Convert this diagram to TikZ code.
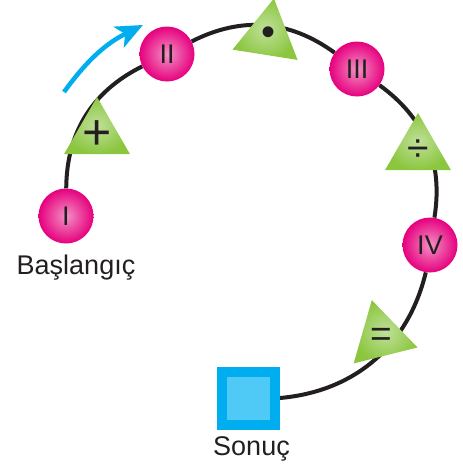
\documentclass[tikz,border=0pt]{standalone}
\usepackage{fontspec}
\setmainfont{Liberation Sans}
\usetikzlibrary{positioning, shapes.geometric, arrows.meta, backgrounds}
\definecolor{ink}{HTML}{231F20}
\definecolor{rosedark}{HTML}{E6007E}
\definecolor{roselight}{HTML}{F391C4}
\definecolor{leafdark}{HTML}{8CC63F}
\definecolor{leaflight}{HTML}{BFE09A}
\definecolor{skydark}{HTML}{00AEEF}
\definecolor{skylight}{HTML}{4FC9F6}
\tikzset{
  x=1pt, y=1pt,
  roman/.style={circle, minimum size=55pt, inner sep=0pt, shade, inner color=roselight,
    outer color=rosedark, text=ink, font=\fontsize{27}{27}\selectfont},
  op/.style={regular polygon, regular polygon sides=3, minimum size=76pt, inner sep=0pt,
    shade, inner color=leaflight, outer color=leafdark},
  sym/.style={inner sep=0pt, text=ink, font=\fontsize{#1}{#1}\selectfont},
  lbl/.style={inner sep=0pt, text=ink, font=\fontsize{27}{27}\selectfont},
  track/.style={draw=ink, line width=4pt},
}

\begin{document}
\begin{tikzpicture}
        \useasboundingbox (0,0) rectangle (463,-474);

        % steps
        \node[roman] (I) at (66,-216) {I};
        \node[roman] (II) at (167,-54) {II};
        \node[roman] (III) at (357,-69) {III};
        \node[roman] (IV) at (430,-245) {IV};
        \node[draw=skydark, line width=10pt, fill=skylight, minimum size=53pt, inner sep=0pt] (S) at (248.5,-398) {};

        % operations
        \node[op, label={[sym=50]center:+}] (plus) at (97,-135) {};
        \node[op, shape border rotate=-9, label={[sym=40]center:•}] (times) at (268,-36) {};
        \node[op, label={[sym=39]center:÷}] (div) at (418,-151) {};
        \node[op, shape border rotate=14, label={[sym=37]center:=}] (eq) at (381,-337) {};

        % labels
        \node[lbl, below=11pt of I, xshift=10pt] (start) {Başlangıç};
        \node[lbl, below=6.5pt of S, xshift=3pt] (finish) {Sonuç};

        % track
        \begin{scope}[on background layer]
          \draw[track] (I) to[bend left=31.5] (II)
                       (II) to[bend left=31.5] (III)
                       (III) to[bend left=31.7] (IV)
                       (IV) to[bend left=35.7] (S.east);
        \end{scope}

        % direction
        \coordinate (a0) at (64,-92);
        \coordinate (a1) at (143,-25);
        \draw[skydark, line width=4.5pt, -{Stealth[length=27pt, width=23pt, inset=7pt]}] (a0) to[bend left=13.8] (a1);
\end{tikzpicture}
\end{document}
